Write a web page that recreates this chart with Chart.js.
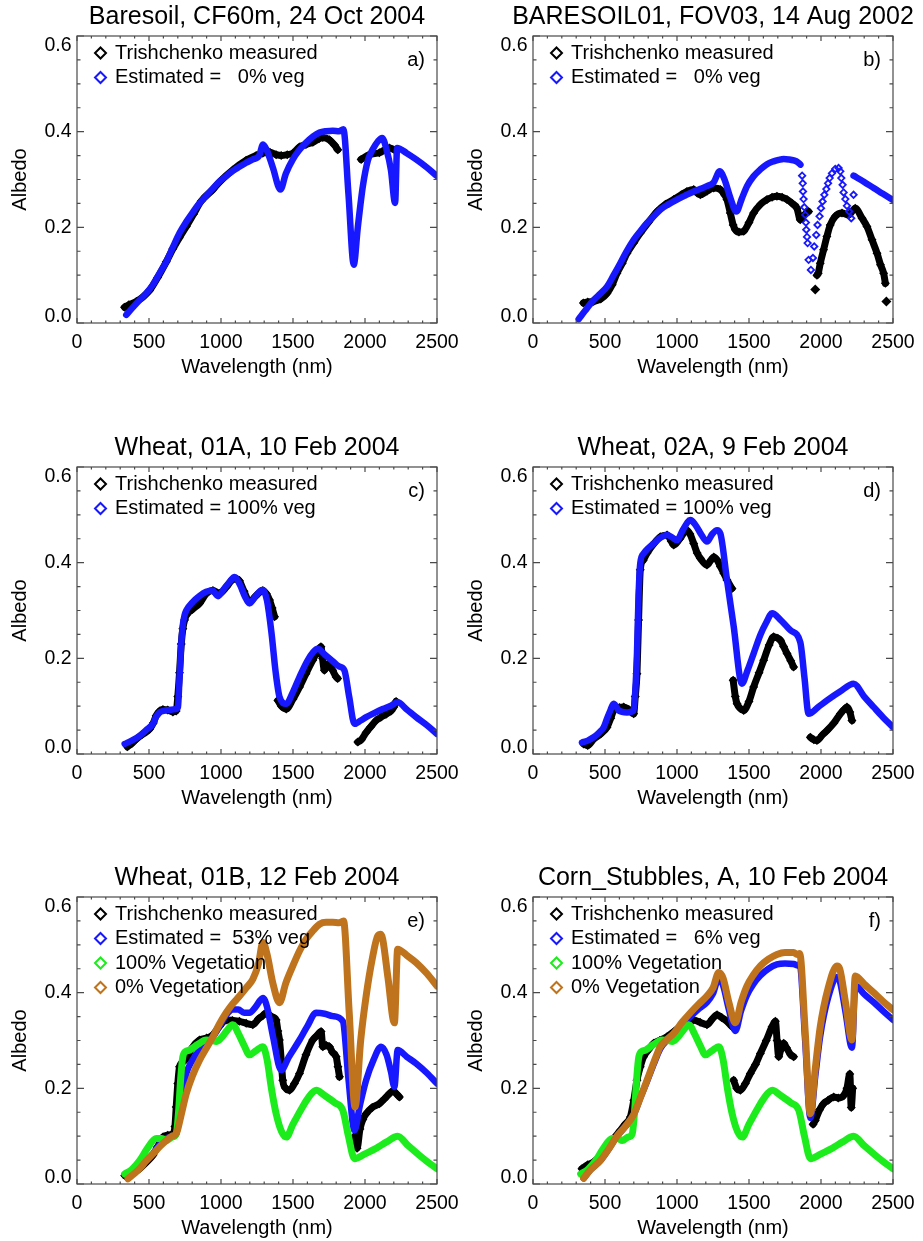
<!DOCTYPE html>
<html>
<head>
<meta charset="utf-8">
<title>Albedo spectra</title>
<script src="https://cdn.jsdelivr.net/npm/chart.js@4.4.1/dist/chart.umd.min.js"></script>
<style>
  html, body { margin: 0; padding: 0; background: #fff; }
  body { position: relative; width: 923px; height: 1241px; overflow: hidden; }
  canvas { position: absolute; }
</style>
</head>
<body>
<canvas id="cA" width="460" height="380" style="left:0px;top:0px"></canvas>
<canvas id="cB" width="460" height="380" style="left:456px;top:0px"></canvas>
<canvas id="cC" width="460" height="380" style="left:0px;top:431px"></canvas>
<canvas id="cD" width="460" height="380" style="left:456px;top:431px"></canvas>
<canvas id="cE" width="460" height="380" style="left:0px;top:861px"></canvas>
<canvas id="cF" width="460" height="380" style="left:456px;top:861px"></canvas>
<script>
// ---- data (wavelength nm / albedo); null = gap in the record ----

// a) Baresoil, CF60m
const aMeasNm  = [330, 360, 412, 460, 504, 560, 620, 666, 710, 759,
                  810, 863, 944, 1000, 1082, 1175, 1244, 1290, 1340, 1383,
                  1418, 1460, 1499, 1545, 1590, 1638, 1680, 1707, 1753, 1788,
                  1811, 1890, 1973, 2031, 2100, 2170, 2216];
const aMeasAlb = [0.033, 0.038, 0.045, 0.055, 0.068, 0.095, 0.128, 0.155, 0.178, 0.202,
                  0.228, 0.255, 0.279, 0.298, 0.32, 0.34, 0.35, 0.355, 0.357, 0.352,
                  0.35, 0.352, 0.355, 0.368, 0.373, 0.378, 0.385, 0.388, 0.383, 0.372,
                  0.362, null, 0.342, 0.352, 0.356, 0.366, 0.36];
const aEstNm  = [342, 380, 435, 480, 527, 575, 620, 665, 712, 760,
                 805, 850, 897, 945, 990, 1040, 1082, 1130, 1175, 1220,
                 1265, 1292, 1320, 1360, 1413, 1450, 1499, 1545, 1591, 1640,
                 1684, 1730, 1776, 1820, 1850, 1885, 1922, 1950, 1985, 2020,
                 2054, 2090, 2119, 2150, 2180, 2209, 2223, 2290, 2355, 2430,
                 2500];
const aEstAlb = [0.017, 0.03, 0.048, 0.062, 0.08, 0.105, 0.128, 0.158, 0.188, 0.212,
                 0.232, 0.25, 0.266, 0.282, 0.296, 0.308, 0.318, 0.327, 0.335, 0.342,
                 0.35, 0.373, 0.36, 0.325, 0.279, 0.312, 0.342, 0.362, 0.377, 0.39,
                 0.398, 0.401, 0.402, 0.401, 0.405, 0.27, 0.122, 0.2, 0.286, 0.34,
                 0.363, 0.38, 0.387, 0.362, 0.32, 0.251, 0.366, 0.355, 0.342, 0.325,
                 0.307];

// b) BARESOIL01, FOV03
const bMeasNm  = [350, 380, 421, 470, 514, 550, 583, 620, 653, 700,
                  745, 800, 861, 920, 977, 1030, 1069, 1116, 1140, 1162,
                  1210, 1255, 1301, 1330, 1347, 1370, 1390, 1405, 1430, 1463,
                  1500, 1532, 1580, 1625, 1660, 1694, 1730, 1764, 1800, 1833,
                  1856, 1880, 1914, 1940, 1972, 1981, 1995, 2018, 2041, 2064,
                  2099, 2146, 2192, 2238, 2285, 2319, 2354, 2389, 2413, 2435,
                  2447];
const bMeasAlb = [0.042, 0.044, 0.045, 0.05, 0.062, 0.08, 0.104, 0.125, 0.146, 0.168,
                  0.188, 0.21, 0.233, 0.248, 0.258, 0.268, 0.275, 0.279, 0.272, 0.268,
                  0.276, 0.282, 0.279, 0.268, 0.258, 0.23, 0.205, 0.195, 0.19, 0.192,
                  0.21, 0.23, 0.248, 0.258, 0.263, 0.265, 0.263, 0.258, 0.25, 0.24,
                  0.216, 0.225, 0.233, null, 0.1, 0.104, 0.125, 0.153, 0.181, 0.205,
                  0.223, 0.23, 0.226, 0.24, 0.219, 0.202, 0.174, 0.146, 0.122, 0.104,
                  0.083];
const bMeasDotNm  = [1960, 2454];
const bMeasDotAlb = [0.07, 0.045];
const bEstNm  = [317, 360, 421, 470, 514, 560, 606, 650, 699, 745,
                 792, 840, 884, 940, 1000, 1060, 1116, 1160, 1208, 1255,
                 1296, 1330, 1370, 1412, 1450, 1486, 1530, 1579, 1625, 1671,
                 1706, 1741, 1776, 1810, 1840, 1857];
const bEstAlb = [0.008, 0.025, 0.048, 0.062, 0.076, 0.1, 0.125, 0.15, 0.174, 0.192,
                 0.209, 0.224, 0.237, 0.248, 0.258, 0.267, 0.275, 0.28, 0.286, 0.294,
                 0.317, 0.3, 0.262, 0.233, 0.26, 0.286, 0.306, 0.321, 0.332, 0.338,
                 0.341, 0.343, 0.342, 0.34, 0.336, 0.331];
const bEstDotNm  = [1869, 1873, 1875, 1879, 1884, 1891, 1895, 1898, 1903, 1907,
                    1914, 1930, 1944, 1953, 1967, 1976, 1990, 2000, 2011, 2023,
                    2037, 2049, 2060, 2076, 2099, 2122, 2134, 2141, 2150, 2157,
                    2169, 2180, 2196, 2210, 2226];
const bEstDotAlb = [0.308, 0.292, 0.275, 0.259, 0.242, 0.226, 0.21, 0.195, 0.18, 0.167,
                    0.132, 0.111, 0.136, 0.16, 0.184, 0.205, 0.223, 0.24, 0.254, 0.268,
                    0.28, 0.292, 0.303, 0.313, 0.322, 0.324, 0.317, 0.303, 0.289, 0.273,
                    0.259, 0.245, 0.233, 0.219, 0.268];
const bEstTailNm  = [2226, 2300, 2366, 2430, 2500];
const bEstTailAlb = [0.308, 0.295, 0.282, 0.27, 0.257];

// c) Wheat, 01A
const cMeasNm  = [350, 380, 412, 450, 504, 530, 550, 575, 597, 630,
                  666, 689, 700, 712, 724, 735, 747, 759, 800, 851,
                  897, 944, 990, 1040, 1082, 1110, 1128, 1160, 1198, 1240,
                  1291, 1315, 1337, 1355, 1372, 1385, 1395, 1420, 1453, 1500,
                  1545, 1590, 1637, 1670, 1694, 1705, 1718, 1735, 1753, 1775,
                  1800, 1810, 1880, 1950, 1975, 2008, 2040, 2077, 2110, 2146,
                  2180, 2200, 2216];
const cMeasAlb = [0.015, 0.022, 0.031, 0.04, 0.052, 0.065, 0.08, 0.09, 0.093, 0.092,
                  0.088, 0.09, 0.12, 0.17, 0.23, 0.262, 0.28, 0.29, 0.302, 0.315,
                  0.335, 0.342, 0.336, 0.35, 0.365, 0.366, 0.362, 0.34, 0.318, 0.33,
                  0.342, 0.335, 0.322, 0.305, 0.287, null, 0.112, 0.1, 0.094, 0.115,
                  0.14, 0.168, 0.196, 0.215, 0.224, 0.2, 0.175, 0.185, 0.189, 0.175,
                  0.161, 0.158, null, 0.025, 0.03, 0.045, 0.057, 0.07, 0.077, 0.083,
                  0.09, 0.098, 0.11];
const cEstNm  = [331, 380, 435, 480, 527, 550, 574, 600, 640, 689,
                 701, 712, 724, 735, 747, 759, 805, 850, 897, 940,
                 980, 1020, 1060, 1094, 1130, 1165, 1198, 1240, 1285, 1300,
                 1320, 1350, 1380, 1406, 1453, 1500, 1545, 1600, 1640, 1672,
                 1720, 1776, 1820, 1857, 1890, 1927, 1970, 2008, 2060, 2123,
                 2180, 2227, 2290, 2355, 2430, 2500];
const cEstAlb = [0.021, 0.028, 0.038, 0.05, 0.063, 0.078, 0.087, 0.09, 0.092, 0.094,
                 0.098, 0.16, 0.23, 0.27, 0.29, 0.3, 0.318, 0.33, 0.339, 0.342,
                 0.33, 0.345, 0.36, 0.37, 0.355, 0.33, 0.315, 0.33, 0.343, 0.34,
                 0.32, 0.255, 0.17, 0.12, 0.105, 0.13, 0.161, 0.195, 0.213, 0.22,
                 0.208, 0.194, 0.183, 0.175, 0.12, 0.063, 0.07, 0.077, 0.085, 0.094,
                 0.101, 0.108, 0.093, 0.077, 0.06, 0.042];

// d) Wheat, 02A
const dMeasNm  = [352, 380, 421, 470, 514, 540, 560, 600, 630, 665,
                  699, 710, 722, 733, 745, 765, 792, 840, 884, 931,
                  960, 977, 1020, 1069, 1090, 1116, 1140, 1162, 1208, 1235,
                  1255, 1280, 1301, 1325, 1347, 1382, 1386, 1390, 1405, 1417,
                  1440, 1463, 1500, 1532, 1570, 1602, 1640, 1671, 1700, 1718,
                  1740, 1764, 1790, 1810, 1870, 1926, 1950, 1972, 2010, 2042,
                  2090, 2134, 2160, 2180, 2200, 2215];
const dMeasAlb = [0.021, 0.018, 0.031, 0.042, 0.056, 0.075, 0.091, 0.097, 0.098, 0.093,
                  0.084, 0.12, 0.168, 0.28, 0.385, 0.405, 0.42, 0.44, 0.454, 0.458,
                  0.445, 0.437, 0.45, 0.468, 0.46, 0.44, 0.42, 0.409, 0.395, 0.405,
                  0.412, 0.405, 0.392, 0.378, 0.364, 0.346, null, 0.154, 0.12, 0.105,
                  0.095, 0.091, 0.11, 0.14, 0.17, 0.196, 0.228, 0.245, 0.242, 0.238,
                  0.225, 0.21, 0.195, 0.182, null, 0.035, 0.03, 0.028, 0.04, 0.049,
                  0.065, 0.084, 0.093, 0.098, 0.088, 0.07];
const dEstNm  = [340, 380, 421, 460, 491, 515, 537, 560, 580, 595,
                 653, 699, 710, 722, 733, 745, 768, 800, 838, 884,
                 931, 970, 1000, 1040, 1093, 1130, 1170, 1208, 1245, 1278,
                 1301, 1347, 1393, 1451, 1490, 1532, 1580, 1620, 1660, 1720,
                 1790, 1856, 1885, 1914, 1980, 2042, 2130, 2227, 2300, 2366,
                 2430, 2500];
const dEstAlb = [0.024, 0.028, 0.035, 0.045, 0.056, 0.075, 0.091, 0.105, 0.098, 0.091,
                 0.087, 0.091, 0.13, 0.21, 0.33, 0.399, 0.419, 0.43, 0.44, 0.452,
                 0.458, 0.452, 0.447, 0.468, 0.489, 0.478, 0.458, 0.444, 0.46, 0.468,
                 0.461, 0.364, 0.268, 0.147, 0.175, 0.21, 0.25, 0.275, 0.294, 0.28,
                 0.258, 0.234, 0.16, 0.084, 0.098, 0.112, 0.13, 0.147, 0.12, 0.098,
                 0.077, 0.056];

// e) Wheat, 01B
const eMeasNm  = [331, 380, 435, 480, 527, 560, 597, 630, 666, 680,
                  689, 700, 712, 735, 759, 800, 851, 900, 944, 990,
                  1036, 1080, 1128, 1175, 1221, 1260, 1290, 1314, 1350, 1383,
                  1395, 1406, 1418, 1429, 1450, 1476, 1510, 1545, 1590, 1637,
                  1665, 1695, 1707, 1730, 1753, 1775, 1800, 1812, 1823, 1880,
                  1930, 1945, 1965, 1985, 2008, 2050, 2100, 2135, 2170, 2195,
                  2216, 2239];
const eMeasAlb = [0.018, 0.022, 0.032, 0.045, 0.06, 0.078, 0.098, 0.102, 0.105, 0.12,
                  0.161, 0.21, 0.245, 0.255, 0.262, 0.285, 0.301, 0.305, 0.312, 0.33,
                  0.343, 0.342, 0.34, 0.336, 0.333, 0.345, 0.352, 0.358, 0.35, 0.343,
                  0.32, 0.301, 0.26, 0.217, 0.2, 0.196, 0.21, 0.231, 0.27, 0.301,
                  0.31, 0.319, 0.287, 0.29, 0.287, 0.275, 0.266, 0.245, 0.224, null,
                  0.1, 0.075, 0.115, 0.135, 0.147, 0.16, 0.168, 0.178, 0.189, 0.195,
                  0.189, 0.182];
const eEstNm  = [342, 400, 460, 527, 580, 640, 689, 720, 759, 800,
                 851, 900, 944, 1000, 1040, 1082, 1120, 1160, 1198, 1240,
                 1291, 1320, 1360, 1418, 1470, 1545, 1600, 1661, 1720, 1776,
                 1846, 1885, 1927, 1965, 2008, 2060, 2112, 2150, 2180, 2204,
                 2227, 2290, 2355, 2430, 2500];
const eEstAlb = [0.021, 0.03, 0.045, 0.063, 0.085, 0.098, 0.105, 0.17, 0.231, 0.258,
                 0.28, 0.295, 0.308, 0.335, 0.355, 0.365, 0.365, 0.358, 0.358, 0.37,
                 0.389, 0.37, 0.31, 0.238, 0.265, 0.301, 0.33, 0.358, 0.356, 0.351,
                 0.34, 0.22, 0.112, 0.165, 0.217, 0.26, 0.287, 0.27, 0.235, 0.203,
                 0.28, 0.266, 0.252, 0.232, 0.21];
const eSoilNm  = [354, 400, 435, 480, 527, 580, 620, 660, 689, 720,
                  759, 800, 851, 900, 944, 990, 1036, 1082, 1129, 1175,
                  1221, 1260, 1291, 1320, 1360, 1406, 1450, 1499, 1545, 1591,
                  1640, 1684, 1730, 1776, 1820, 1851, 1890, 1931, 1970, 2008,
                  2050, 2089, 2110, 2123, 2160, 2204, 2227, 2290, 2355, 2430,
                  2500];
const eSoilAlb = [0.011, 0.022, 0.032, 0.048, 0.063, 0.08, 0.091, 0.1, 0.105, 0.14,
                  0.189, 0.225, 0.259, 0.285, 0.308, 0.335, 0.358, 0.377, 0.393, 0.41,
                  0.428, 0.46, 0.505, 0.48, 0.42, 0.379, 0.42, 0.456, 0.487, 0.512,
                  0.53, 0.543, 0.547, 0.547, 0.546, 0.55, 0.36, 0.161, 0.3, 0.393,
                  0.47, 0.519, 0.522, 0.512, 0.43, 0.337, 0.491, 0.478, 0.463, 0.44,
                  0.414];

// 100% vegetation end member (same curve in e and f)
const vegNm  = [331, 380, 435, 490, 550, 590, 620, 660, 689, 705,
                720, 735, 760, 782, 840, 897, 940, 967, 1000, 1040,
                1082, 1120, 1160, 1198, 1240, 1291, 1320, 1350, 1383, 1420,
                1453, 1500, 1560, 1610, 1661, 1720, 1790, 1846, 1885, 1927,
                2000, 2080, 2150, 2227, 2300, 2370, 2440, 2500];
const vegAlb = [0.021, 0.03, 0.049, 0.075, 0.095, 0.095, 0.091, 0.098, 0.105, 0.15,
                0.22, 0.266, 0.278, 0.28, 0.292, 0.301, 0.3, 0.298, 0.305, 0.32,
                0.333, 0.315, 0.29, 0.27, 0.278, 0.287, 0.26, 0.2, 0.147, 0.11,
                0.098, 0.125, 0.158, 0.182, 0.196, 0.185, 0.17, 0.154, 0.1, 0.053,
                0.063, 0.075, 0.088, 0.1, 0.08, 0.062, 0.045, 0.032];

// f) Corn_Stubbles, A
const fMeasNm  = [340, 380, 421, 470, 514, 560, 606, 640, 676, 700,
                  722, 745, 768, 800, 838, 880, 931, 977, 1023, 1070,
                  1116, 1160, 1208, 1245, 1278, 1310, 1347, 1382, 1388, 1393,
                  1415, 1440, 1475, 1509, 1545, 1579, 1620, 1660, 1683, 1695,
                  1706, 1720, 1741, 1760, 1790, 1810, 1880, 1945, 1960, 1990,
                  2018, 2050, 2088, 2120, 2157, 2180, 2200, 2210, 2220];
const fMeasAlb = [0.032, 0.04, 0.046, 0.06, 0.077, 0.095, 0.112, 0.125, 0.14, 0.175,
                  0.217, 0.245, 0.266, 0.28, 0.294, 0.3, 0.308, 0.318, 0.329, 0.338,
                  0.343, 0.338, 0.333, 0.345, 0.354, 0.348, 0.34, 0.329, null, 0.217,
                  0.2, 0.196, 0.21, 0.231, 0.25, 0.273, 0.3, 0.329, 0.34, 0.3,
                  0.266, 0.28, 0.294, 0.285, 0.27, 0.266, null, 0.125, 0.133, 0.155,
                  0.168, 0.175, 0.182, 0.18, 0.185, 0.2, 0.23, 0.16, 0.2];
const fSoilNm  = [352, 400, 468, 530, 583, 640, 699, 745, 792, 840,
                  884, 930, 977, 1035, 1093, 1150, 1208, 1250, 1290, 1320,
                  1360, 1405, 1445, 1486, 1530, 1579, 1635, 1694, 1750, 1810,
                  1835, 1852, 1890, 1926, 1960, 1995, 2050, 2111, 2130, 2170,
                  2215, 2238, 2300, 2366, 2430, 2500];
const fSoilAlb = [0.012, 0.03, 0.049, 0.075, 0.1, 0.12, 0.145, 0.18, 0.217, 0.255,
                  0.287, 0.302, 0.315, 0.338, 0.358, 0.376, 0.393, 0.41, 0.442, 0.43,
                  0.38, 0.337, 0.38, 0.414, 0.437, 0.456, 0.47, 0.48, 0.484, 0.484,
                  0.48, 0.482, 0.32, 0.147, 0.24, 0.329, 0.41, 0.456, 0.45, 0.38,
                  0.301, 0.435, 0.418, 0.4, 0.382, 0.364];
const fEstNm  = fSoilNm;
const fEstAlb = [0.012, 0.03, 0.049, 0.075, 0.1, 0.12, 0.145, 0.18, 0.215, 0.252,
                 0.283, 0.3, 0.312, 0.333, 0.35, 0.366, 0.38, 0.398, 0.43, 0.415,
                 0.365, 0.32, 0.362, 0.395, 0.418, 0.436, 0.45, 0.459, 0.461, 0.46,
                 0.457, 0.46, 0.3, 0.138, 0.225, 0.31, 0.39, 0.433, 0.425, 0.36,
                 0.285, 0.415, 0.397, 0.38, 0.362, 0.343];

// axis ticks
const xMin = 0, xMax = 2500, xStep = 100, xLabelEvery = 500;
const yMin = 0, yMax = 0.6, yStep = 0.05, yLabelEvery = 0.2;

// ---- styling ----
const FONT = "'Liberation Sans', Arial, Helvetica, sans-serif";
const BLACK = '#000', BLUE = 'rgb(24,24,255)', GREEN = 'rgb(28,236,28)', BROWN = 'rgb(190,115,28)';
Chart.defaults.font.family = FONT;
Chart.defaults.color = '#000';

const pts = (nm, alb) => nm.map((x, i) => ({ x, y: alb[i] }));
const isMajorY = v => Math.abs(v / yLabelEvery - Math.round(v / yLabelEvery)) < 1e-6;

const common = { clip: 0, fill: false, spanGaps: false, cubicInterpolationMode: 'monotone',
                 borderJoinStyle: 'round', borderCapStyle: 'round' };

function measured(nm, alb) {
  return Object.assign({}, common, { label: 'Trishchenko measured', inLegend: true,
    data: pts(nm, alb), borderColor: BLACK, backgroundColor: BLACK, borderWidth: 7,
    pointStyle: 'rectRot', pointRadius: 4.5, pointBorderWidth: 0, pointBackgroundColor: BLACK, order: 4 });
}
function band(nm, alb, color, label, order, width) {
  return Object.assign({}, common, { label: label || '', inLegend: !!label,
    data: pts(nm, alb), borderColor: color, backgroundColor: color, borderWidth: width || 6.5,
    pointRadius: 0, order });
}
function dots(nm, alb, color, r, hollow, order) {
  return Object.assign({}, common, { label: '', inLegend: false, data: pts(nm, alb), showLine: false,
    borderColor: color, pointStyle: 'rectRot', pointRadius: r, pointBorderColor: color,
    pointBackgroundColor: hollow ? 'rgba(0,0,0,0)' : color, pointBorderWidth: hollow ? 1.8 : 0, order });
}

// box, inward ticks, y labels, title, in-plot legend and panel letter
const idlFrame = {
  id: 'idlFrame',
  afterDatasetsDraw(chart, args, opts) {
    const { ctx, chartArea: ca } = chart;
    const xs = chart.scales.x, ys = chart.scales.y;
    ctx.save();
    ctx.strokeStyle = '#4a4a4a';
    ctx.lineWidth = 1.2;
    ctx.strokeRect(ca.left, ca.top, ca.width, ca.height);
    ctx.beginPath();
    xs.ticks.forEach(t => {
      const p = xs.getPixelForValue(t.value);
      const len = t.value % xLabelEvery === 0 ? 5 : 2.5;
      ctx.moveTo(p, ca.bottom); ctx.lineTo(p, ca.bottom - len);
      ctx.moveTo(p, ca.top); ctx.lineTo(p, ca.top + len);
    });
    ys.ticks.forEach(t => {
      const p = ys.getPixelForValue(t.value);
      const len = isMajorY(t.value) ? 7 : 3.5;
      ctx.moveTo(ca.left, p); ctx.lineTo(ca.left + len, p);
      ctx.moveTo(ca.right, p); ctx.lineTo(ca.right - len, p);
    });
    ctx.stroke();

    ctx.fillStyle = '#000';
    ctx.font = '19.5px ' + FONT;
    ctx.textAlign = 'right';
    ctx.textBaseline = 'middle';
    ys.ticks.forEach(t => {
      if (!isMajorY(t.value)) return;
      const p = ys.getPixelForValue(t.value);
      const cy = Math.min(ca.bottom - 6.5, Math.max(ca.top + 9.5, p));
      ctx.fillText(t.value.toFixed(1), ca.left - 5.5, cy);
    });

    ctx.textAlign = 'center';
    ctx.font = '25px ' + FONT;
    ctx.fillText(opts.title, (ca.left + ca.right) / 2, ca.top - 18.5);

    ctx.font = '20px ' + FONT;
    ctx.textAlign = 'left';
    chart.data.datasets.filter(d => d.inLegend).forEach((d, i) => {
      const cy = ca.top + 17 + i * 24.5, cx = ca.left + 23.5, r = 5.5;
      ctx.beginPath();
      ctx.moveTo(cx, cy - r); ctx.lineTo(cx + r, cy); ctx.lineTo(cx, cy + r); ctx.lineTo(cx - r, cy);
      ctx.closePath();
      ctx.lineWidth = 2;
      ctx.strokeStyle = d.borderColor;
      ctx.stroke();
      ctx.fillText(d.label, ca.left + 38, cy);
    });
    ctx.textAlign = 'right';
    ctx.fillText(opts.tag, ca.right - 12, ca.top + 24);
    ctx.restore();
  }
};

function makeChart(id, title, tag, datasets) {
  return new Chart(document.getElementById(id), {
    type: 'line',
    data: { datasets },
    options: {
      responsive: false, animation: false, events: [],
      layout: { padding: { top: 36, right: 23, left: 0, bottom: 0 } },
      plugins: { legend: { display: false }, tooltip: { enabled: false }, idlFrame: { title, tag } },
      scales: {
        x: {
          type: 'linear', min: xMin, max: xMax,
          ticks: { stepSize: xStep, autoSkip: false, maxRotation: 0, padding: 8, font: { size: 19.5 }, color: '#000',
                   callback: v => (v % xLabelEvery === 0 ? String(v) : '') },
          grid: { display: false, drawTicks: false }, border: { display: false },
          title: { display: true, text: 'Wavelength (nm)', font: { size: 20 }, color: '#000', padding: { top: 0, bottom: 1 } },
          afterFit: s => { s.height = 57; s.paddingLeft = 0; s.paddingRight = 0; }
        },
        y: {
          type: 'linear', min: yMin, max: yMax,
          ticks: { stepSize: yStep, display: false },
          grid: { display: false, drawTicks: false }, border: { display: false },
          title: { display: true, text: 'Albedo', font: { size: 20 }, color: '#000', padding: { top: 8.5, bottom: 0 } },
          afterFit: s => { s.width = 77; }
        }
      }
    },
    plugins: [idlFrame]
  });
}

makeChart('cA', 'Baresoil, CF60m, 24 Oct 2004', 'a)', [
  measured(aMeasNm, aMeasAlb),
  band(aEstNm, aEstAlb, BLUE, 'Estimated =   0% veg', 3)
]);
makeChart('cB', 'BARESOIL01, FOV03, 14 Aug 2002', 'b)', [
  measured(bMeasNm, bMeasAlb),
  band(bEstNm, bEstAlb, BLUE, 'Estimated =   0% veg', 3),
  dots(bMeasDotNm, bMeasDotAlb, BLACK, 5, false, 4),
  dots(bEstDotNm, bEstDotAlb, BLUE, 3.2, true, 3),
  band(bEstTailNm, bEstTailAlb, BLUE, '', 3)
]);
makeChart('cC', 'Wheat, 01A, 10 Feb 2004', 'c)', [
  measured(cMeasNm, cMeasAlb),
  band(cEstNm, cEstAlb, BLUE, 'Estimated = 100% veg', 3)
]);
makeChart('cD', 'Wheat, 02A, 9 Feb 2004', 'd)', [
  measured(dMeasNm, dMeasAlb),
  band(dEstNm, dEstAlb, BLUE, 'Estimated = 100% veg', 3)
]);
makeChart('cE', 'Wheat, 01B, 12 Feb 2004', 'e)', [
  measured(eMeasNm, eMeasAlb),
  band(eEstNm, eEstAlb, BLUE, 'Estimated =  53% veg', 3),
  band(vegNm, vegAlb, GREEN, '100% Vegetation', 2, 7),
  band(eSoilNm, eSoilAlb, BROWN, '0% Vegetation', 1, 7)
]);
makeChart('cF', 'Corn_Stubbles, A, 10 Feb 2004', 'f)', [
  measured(fMeasNm, fMeasAlb),
  band(fEstNm, fEstAlb, BLUE, 'Estimated =   6% veg', 3),
  band(vegNm, vegAlb, GREEN, '100% Vegetation', 2, 7),
  band(fSoilNm, fSoilAlb, BROWN, '0% Vegetation', 1, 7)
]);
</script>
</body>
</html>
